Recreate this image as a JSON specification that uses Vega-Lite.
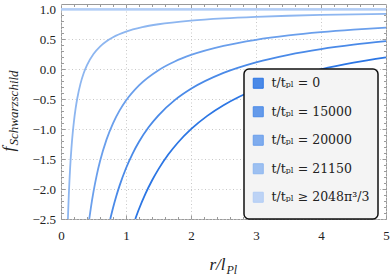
{
  "$schema": "https://vega.github.io/schema/vega-lite/v6.json",
  "width": 325,
  "height": 215,
  "autosize": "none",
  "padding": {"left": 61, "top": 4, "right": 4, "bottom": 56},
  "background": "white",
  "config": {
    "view": {"stroke": "#9a9a9a", "strokeWidth": 1},
    "axis": {"labelFont": "Liberation Serif", "titleFont": "Liberation Serif", "labelColor": "#222", "titleColor": "#222", "titleFontWeight": "normal", "tickColor": "#9a9a9a"}
  },
  "data": {
    "values": [
      {"series": "max", "r": 0, "f": 1},
      {"series": "max", "r": 2.5, "f": 1},
      {"series": "max", "r": 5, "f": 1},
      {"series": "21150", "r": 0.1063, "f": -2.5},
      {"series": "21150", "r": 0.11, "f": -2.3818},
      {"series": "21150", "r": 0.12, "f": -2.1},
      {"series": "21150", "r": 0.13, "f": -1.8615},
      {"series": "21150", "r": 0.14, "f": -1.6571},
      {"series": "21150", "r": 0.16, "f": -1.325},
      {"series": "21150", "r": 0.18, "f": -1.0667},
      {"series": "21150", "r": 0.2, "f": -0.86},
      {"series": "21150", "r": 0.225, "f": -0.6533},
      {"series": "21150", "r": 0.25, "f": -0.488},
      {"series": "21150", "r": 0.3, "f": -0.24},
      {"series": "21150", "r": 0.35, "f": -0.0629},
      {"series": "21150", "r": 0.4, "f": 0.07},
      {"series": "21150", "r": 0.5, "f": 0.256},
      {"series": "21150", "r": 0.6, "f": 0.38},
      {"series": "21150", "r": 0.7, "f": 0.4686},
      {"series": "21150", "r": 0.8, "f": 0.535},
      {"series": "21150", "r": 1.0, "f": 0.628},
      {"series": "21150", "r": 1.25, "f": 0.7024},
      {"series": "21150", "r": 1.5, "f": 0.752},
      {"series": "21150", "r": 2.0, "f": 0.814},
      {"series": "21150", "r": 2.5, "f": 0.8512},
      {"series": "21150", "r": 3.0, "f": 0.876},
      {"series": "21150", "r": 3.5, "f": 0.8937},
      {"series": "21150", "r": 4.0, "f": 0.907},
      {"series": "21150", "r": 5.0, "f": 0.9256},
      {"series": "20000", "r": 0.4349, "f": -2.5},
      {"series": "20000", "r": 0.46, "f": -2.3087},
      {"series": "20000", "r": 0.5, "f": -2.044},
      {"series": "20000", "r": 0.55, "f": -1.7673},
      {"series": "20000", "r": 0.6, "f": -1.5367},
      {"series": "20000", "r": 0.7, "f": -1.1743},
      {"series": "20000", "r": 0.8, "f": -0.9025},
      {"series": "20000", "r": 0.9, "f": -0.6911},
      {"series": "20000", "r": 1.0, "f": -0.522},
      {"series": "20000", "r": 1.2, "f": -0.2683},
      {"series": "20000", "r": 1.5, "f": -0.0147},
      {"series": "20000", "r": 1.75, "f": 0.1303},
      {"series": "20000", "r": 2.0, "f": 0.239},
      {"series": "20000", "r": 2.5, "f": 0.3912},
      {"series": "20000", "r": 3.0, "f": 0.4927},
      {"series": "20000", "r": 3.5, "f": 0.5651},
      {"series": "20000", "r": 4.0, "f": 0.6195},
      {"series": "20000", "r": 4.5, "f": 0.6618},
      {"series": "20000", "r": 5.0, "f": 0.6956},
      {"series": "15000", "r": 0.7577, "f": -2.5},
      {"series": "15000", "r": 0.8, "f": -2.315},
      {"series": "15000", "r": 0.85, "f": -2.12},
      {"series": "15000", "r": 0.9, "f": -1.9467},
      {"series": "15000", "r": 1.0, "f": -1.652},
      {"series": "15000", "r": 1.1, "f": -1.4109},
      {"series": "15000", "r": 1.2, "f": -1.21},
      {"series": "15000", "r": 1.35, "f": -0.9644},
      {"series": "15000", "r": 1.5, "f": -0.768},
      {"series": "15000", "r": 1.75, "f": -0.5154},
      {"series": "15000", "r": 2.0, "f": -0.326},
      {"series": "15000", "r": 2.5, "f": -0.0608},
      {"series": "15000", "r": 3.0, "f": 0.116},
      {"series": "15000", "r": 3.5, "f": 0.2423},
      {"series": "15000", "r": 4.0, "f": 0.337},
      {"series": "15000", "r": 4.5, "f": 0.4107},
      {"series": "15000", "r": 5.0, "f": 0.4696},
      {"series": "0", "r": 1.1429, "f": -2.5},
      {"series": "0", "r": 1.2, "f": -2.3333},
      {"series": "0", "r": 1.3, "f": -2.0769},
      {"series": "0", "r": 1.4, "f": -1.8571},
      {"series": "0", "r": 1.5, "f": -1.6667},
      {"series": "0", "r": 1.65, "f": -1.4242},
      {"series": "0", "r": 1.8, "f": -1.2222},
      {"series": "0", "r": 2.0, "f": -1.0},
      {"series": "0", "r": 2.25, "f": -0.7778},
      {"series": "0", "r": 2.5, "f": -0.6},
      {"series": "0", "r": 2.75, "f": -0.4545},
      {"series": "0", "r": 3.0, "f": -0.3333},
      {"series": "0", "r": 3.5, "f": -0.1429},
      {"series": "0", "r": 4.0, "f": 0.0},
      {"series": "0", "r": 4.5, "f": 0.1111},
      {"series": "0", "r": 5.0, "f": 0.2}
    ]
  },
  "resolve": {"axis": {"x": "independent", "y": "independent"}},
  "layer": [
    {
      "mark": {"type": "line", "interpolate": "monotone", "strokeWidth": 1.8, "clip": false},
      "encoding": {
        "x": {"field": "r", "type": "quantitative", "scale": {"domain": [0, 5], "nice": false, "zero": false},
          "axis": {"orient": "bottom", "values": [0, 1, 2, 3, 4, 5], "format": "d", "tickSize": -4, "domain": false,
            "grid": true, "gridColor": "#c8c8c8", "gridDash": [1, 2.5], "labelFlush": false, "labelPadding": 14, "labelFont": "Liberation Serif", "labelFontSize": 13,
            "title": "r/l", "titleFont": "Liberation Serif", "titleFontStyle": "italic", "titleFontSize": 17, "titleX": 148, "titleY": 50.5, "titleAlign": "left", "titleBaseline": "alphabetic", "titleAngle": 0}},
        "y": {"field": "f", "type": "quantitative", "scale": {"domain": [-2.5, 1.09], "nice": false, "zero": false},
          "axis": {"orient": "left", "values": [-2.5, -2, -1.5, -1, -0.5, 0, 0.5, 1], "format": ".1f", "tickSize": -4, "domain": false,
            "grid": true, "gridColor": "#c8c8c8", "gridDash": [1, 2.5], "labelFlush": false, "labelPadding": 9.5, "labelFont": "Liberation Serif", "labelFontSize": 13,
            "title": "f", "titleFont": "Liberation Serif", "titleFontStyle": "italic", "titleFontSize": 17, "titleX": -48, "titleY": 147, "titleAlign": "left", "titleBaseline": "alphabetic", "titleAngle": -90}},
        "color": {"field": "series", "type": "nominal",
          "scale": {"domain": ["0", "15000", "20000", "21150", "max"],
            "range": ["#2c76e4", "#4a8ae8", "#6a9fec", "#8db6f0", "#b3cdf5"]},
          "legend": {"orient": "none", "legendX": 183, "legendY": 65, "title": " ", "titleOrient": "bottom", "titleFontSize": 6.5, "titlePadding": 0,
            "labelExpr": "datum.label == 'max' ? 't/tₚₗ ≥ 2048π³/3' : 't/tₚₗ = ' + datum.label",
            "fillColor": "#f4f4f4", "strokeColor": "#111", "cornerRadius": 5, "padding": 8,
            "symbolType": "square", "symbolSize": 100, "symbolStrokeWidth": 1, "rowPadding": 13.5,
            "labelFont": "DejaVu Serif", "labelFontSize": 12.5, "labelColor": "#222", "labelOffset": 7, "labelLimit": 0,
            "encode": {
              "legend": {"update": {"strokeWidth": {"value": 1.5}}},
              "symbols": {"update": {"fill": {"scale": "color", "field": "value"}, "fillOpacity": {"value": 0.85}, "stroke": {"scale": "color", "field": "value"}, "opacity": {"value": 1}}}}}}
      }
    },
    {
      "mark": {"type": "point", "opacity": 0},
      "encoding": {
        "x": {"field": "r", "type": "quantitative", "scale": {"domain": [0, 5], "nice": false, "zero": false},
          "axis": {"orient": "bottom", "values": [0.2, 0.4, 0.6, 0.8, 1.2, 1.4, 1.6, 1.8, 2.2, 2.4, 2.6, 2.8, 3.2, 3.4, 3.6, 3.8, 4.2, 4.4, 4.6, 4.8], "tickSize": -2.5, "domain": false, "grid": false, "labels": false,
            "title": "Pl", "titleFont": "Liberation Serif", "titleFontStyle": "italic", "titleFontSize": 12, "titleX": 165, "titleY": 54, "titleAlign": "left", "titleBaseline": "alphabetic", "titleAngle": 0}},
        "y": {"field": "f", "type": "quantitative", "scale": {"domain": [-2.5, 1.09], "nice": false, "zero": false},
          "axis": {"orient": "left", "values": [-2.4, -2.3, -2.2, -2.1, -1.9, -1.8, -1.7, -1.6, -1.4, -1.3, -1.2, -1.1, -0.9, -0.8, -0.7, -0.6, -0.4, -0.3, -0.2, -0.1, 0.1, 0.2, 0.3, 0.4, 0.6, 0.7, 0.8, 0.9], "tickSize": -2.5, "domain": false, "grid": false, "labels": false,
            "title": "Schwarzschild", "titleFont": "Liberation Serif", "titleFontStyle": "italic", "titleFontSize": 13, "titleX": -44, "titleY": 141, "titleAlign": "left", "titleBaseline": "alphabetic", "titleAngle": -90}}
      }
    },
    {
      "mark": {"type": "point", "opacity": 0},
      "encoding": {
        "x": {"field": "r", "type": "quantitative", "scale": {"domain": [0, 5], "nice": false, "zero": false},
          "axis": {"orient": "top", "values": [1, 2, 3, 4], "tickSize": -4, "domain": false, "grid": false, "labels": false, "title": null}},
        "y": {"field": "f", "type": "quantitative", "scale": {"domain": [-2.5, 1.09], "nice": false, "zero": false},
          "axis": {"orient": "right", "values": [-2, -1.5, -1, -0.5, 0, 0.5, 1], "tickSize": -4, "domain": false, "grid": false, "labels": false, "title": null}}
      }
    },
    {
      "mark": {"type": "point", "opacity": 0},
      "encoding": {
        "x": {"field": "r", "type": "quantitative", "scale": {"domain": [0, 5], "nice": false, "zero": false},
          "axis": {"orient": "top", "values": [0.2, 0.4, 0.6, 0.8, 1.2, 1.4, 1.6, 1.8, 2.2, 2.4, 2.6, 2.8, 3.2, 3.4, 3.6, 3.8, 4.2, 4.4, 4.6, 4.8], "tickSize": -2.5, "domain": false, "grid": false, "labels": false, "title": null}},
        "y": {"field": "f", "type": "quantitative", "scale": {"domain": [-2.5, 1.09], "nice": false, "zero": false},
          "axis": {"orient": "right", "values": [-2.4, -2.3, -2.2, -2.1, -1.9, -1.8, -1.7, -1.6, -1.4, -1.3, -1.2, -1.1, -0.9, -0.8, -0.7, -0.6, -0.4, -0.3, -0.2, -0.1, 0.1, 0.2, 0.3, 0.4, 0.6, 0.7, 0.8, 0.9, 1.0], "tickSize": -2.5, "domain": false, "grid": false, "labels": false, "title": null}}
      }
    },
    {
      "transform": [{"filter": {"field": "series", "equal": "max"}}],
      "mark": {"type": "rule", "strokeWidth": 1.8, "clip": false},
      "encoding": {
        "y": {"field": "f", "type": "quantitative", "scale": {"domain": [-2.5, 1.09], "nice": false, "zero": false}, "axis": null},
        "color": {"field": "series", "type": "nominal"}
      }
    }
  ]
}
